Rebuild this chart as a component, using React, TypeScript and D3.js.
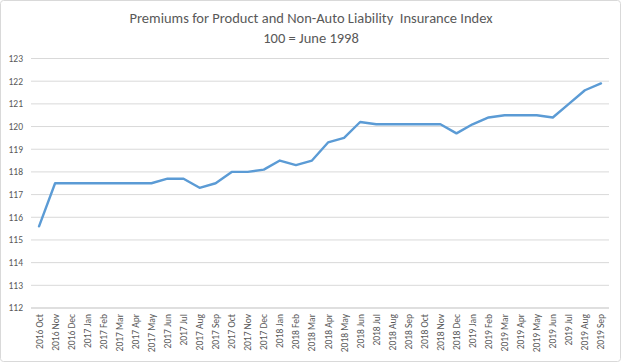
import * as d3 from 'd3';
import React from 'react';

const months = [
  '2016 Oct', '2016 Nov', '2016 Dec',
  '2017 Jan', '2017 Feb', '2017 Mar', '2017 Apr', '2017 May', '2017 Jun',
  '2017 Jul', '2017 Aug', '2017 Sep', '2017 Oct', '2017 Nov', '2017 Dec',
  '2018 Jan', '2018 Feb', '2018 Mar', '2018 Apr', '2018 May', '2018 Jun',
  '2018 Jul', '2018 Aug', '2018 Sep', '2018 Oct', '2018 Nov', '2018 Dec',
  '2019 Jan', '2019 Feb', '2019 Mar', '2019 Apr', '2019 May', '2019 Jun',
  '2019 Jul', '2019 Aug', '2019 Sep',
];

const indexValues = [
  115.6, 117.5, 117.5,
  117.5, 117.5, 117.5, 117.5, 117.5, 117.7,
  117.7, 117.3, 117.5, 118.0, 118.0, 118.1,
  118.5, 118.3, 118.5, 119.3, 119.5, 120.2,
  120.1, 120.1, 120.1, 120.1, 120.1, 119.7,
  120.1, 120.4, 120.5, 120.5, 120.5, 120.4,
  121.0, 121.6, 121.9,
];

const yTicks = [112, 113, 114, 115, 116, 117, 118, 119, 120, 121, 122, 123];

const titleLines = [
  'Premiums for Product and Non-Auto Liability  Insurance Index',
  '100 = June 1998',
];

const W = 621;
const H = 362;
const font = 'Carlito, Calibri, Lato, "Open Sans", sans-serif';

export default function App() {
  // plot area
  const left = 31, right = 609, top = 58.5, bottom = 308;

  const x = d3.scaleBand().domain(months).range([left, right]);
  const y = d3.scaleLinear().domain([112, 123]).range([bottom, top]);

  const line = d3
    .line<number>()
    .x((_, i) => (x(months[i]) as number) + x.bandwidth() / 2)
    .y((d) => y(d));

  return (
    <svg
      width={W}
      height={H}
      style={{ position: 'absolute', left: 0, top: 0, background: '#fff' }}
    >
      <rect x={0.5} y={0.5} width={W - 1} height={H - 1} rx={3} fill="#fff" stroke="#d9d9d9" />

      {titleLines.map((t, i) => (
        <text
          key={t}
          x={311}
          y={23 + i * 19.5}
          textAnchor="middle"
          fontFamily={font}
          fontSize={14.5}
          fill="#595959"
          style={{ whiteSpace: 'pre' }}
        >
          {t}
        </text>
      ))}

      {yTicks.map((t) => (
        <g key={t}>
          <line
            x1={left}
            x2={right}
            y1={y(t)}
            y2={y(t)}
            stroke={t === 112 ? '#bfbfbf' : '#d9d9d9'}
            strokeWidth={1}
          />
          <text
            x={23}
            y={y(t)}
            dy="0.35em"
            textAnchor="end"
            fontFamily={font}
            fontSize={9.5}
            fill="#595959"
          >
            {t}
          </text>
        </g>
      ))}

      {months.map((m) => {
        const cx = (x(m) as number) + x.bandwidth() / 2;
        return (
          <text
            key={m}
            transform={`translate(${cx + 3.5},${bottom + 6}) rotate(-90)`}
            textAnchor="end"
            fontFamily={font}
            fontSize={9.5}
            fill="#595959"
          >
            {m}
          </text>
        );
      })}

      <path
        d={line(indexValues) || ''}
        fill="none"
        stroke="#5b9bd5"
        strokeWidth={2.4}
        strokeLinejoin="round"
        strokeLinecap="round"
      />
    </svg>
  );
}
